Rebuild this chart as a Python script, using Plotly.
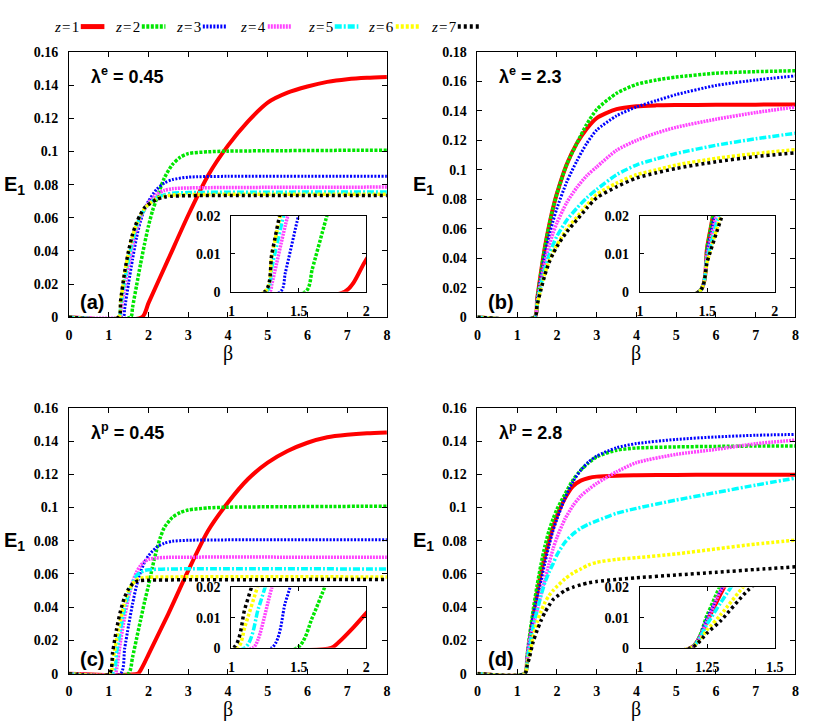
import plotly.graph_objects as go

W, H = 830, 727

# ---------------- data ----------------
Z_LABELS = ["<i>z</i>\u200a=\u200a1", "<i>z</i>\u200a=\u200a2", "<i>z</i>\u200a=\u200a3",
            "<i>z</i>\u200a=\u200a4", "<i>z</i>\u200a=\u200a5", "<i>z</i>\u200a=\u200a6",
            "<i>z</i>\u200a=\u200a7"]

# panel (a)  lambda^e = 0.45
A1_B = [0, 1.84, 2.0, 2.5, 3.0, 3.5, 4.0, 4.5, 5.0, 5.5, 6.0, 6.5, 7.0, 7.5, 8.0]
A1_E = [0, 0, 0.0085, 0.035, 0.0615, 0.0855, 0.1035, 0.118, 0.1295, 0.1355, 0.1392, 0.142, 0.1436, 0.1445, 0.145]
A2_B = [0, 1.55, 1.6, 1.7, 1.8, 1.9, 2.0, 2.1, 2.2, 2.4, 2.6, 2.8, 3.0, 3.5, 4.0, 8.0]
A2_E = [0, 0, 0.006, 0.019, 0.032, 0.044, 0.055, 0.064, 0.071, 0.084, 0.092, 0.0965, 0.0987, 0.0998, 0.1002, 0.1008]
A3_B = [0, 1.364, 1.4, 1.5, 1.6, 1.7, 1.8, 1.9, 2.0, 2.2, 2.4, 2.6, 3.0, 4.0, 8.0]
A3_E = [0, 0, 0.005, 0.0205, 0.035, 0.048, 0.058, 0.065, 0.070, 0.077, 0.081, 0.083, 0.0845, 0.085, 0.085]
A4_B = [0, 1.284, 1.3, 1.4, 1.5, 1.6, 1.7, 1.8, 1.9, 2.0, 2.2, 2.4, 2.6, 3.0, 8.0]
A4_E = [0, 0, 0.002, 0.0175, 0.031, 0.043, 0.053, 0.060, 0.065, 0.069, 0.074, 0.0765, 0.0775, 0.078, 0.0785]
A5_B = [0, 1.26, 1.3, 1.4, 1.5, 1.6, 1.7, 1.8, 1.9, 2.0, 2.2, 2.4, 2.6, 3.0, 8.0]
A5_E = [0, 0, 0.0065, 0.022, 0.035, 0.046, 0.055, 0.061, 0.065, 0.068, 0.072, 0.0738, 0.0748, 0.0752, 0.0755]
A6_B = [0, 1.25, 1.3, 1.4, 1.5, 1.6, 1.7, 1.8, 1.9, 2.0, 2.2, 2.4, 2.6, 3.0, 8.0]
A6_E = [0, 0, 0.0095, 0.026, 0.039, 0.049, 0.056, 0.0615, 0.0655, 0.068, 0.0715, 0.073, 0.0737, 0.074, 0.0742]
A7_B = [0, 1.248, 1.3, 1.4, 1.5, 1.6, 1.7, 1.8, 1.9, 2.0, 2.2, 2.4, 2.6, 3.0, 8.0]
A7_E = [0, 0, 0.010, 0.027, 0.040, 0.050, 0.057, 0.062, 0.066, 0.068, 0.071, 0.0725, 0.073, 0.0733, 0.0735]

# panel (b)  lambda^e = 2.3
B_BETA = [0, 1.44, 1.5, 1.6, 1.7, 1.8, 1.9, 2.0, 2.25, 2.5, 2.75, 3.0, 3.5, 4.0, 4.5, 5.0, 6.0, 7.0, 8.0]
B1_E = [0, 0, 0.012, 0.031, 0.048, 0.062, 0.074, 0.084, 0.104, 0.118, 0.128, 0.1352, 0.1412, 0.1432, 0.1438, 0.144, 0.1442, 0.1443, 0.1444]
B2_E = [0, 0, 0.012, 0.031, 0.048, 0.062, 0.074, 0.084, 0.104, 0.118, 0.131, 0.141, 0.152, 0.158, 0.161, 0.163, 0.1656, 0.1667, 0.1673]
B3_E = [0, 0, 0.011, 0.028, 0.043, 0.055, 0.065, 0.074, 0.092, 0.106, 0.118, 0.127, 0.1367, 0.1427, 0.147, 0.1511, 0.1573, 0.161, 0.1638]
B4_E = [0, 0, 0.010, 0.025, 0.038, 0.048, 0.057, 0.064, 0.078, 0.088, 0.096, 0.102, 0.1133, 0.120, 0.125, 0.1289, 0.1344, 0.1389, 0.1427]
B5_E = [0, 0, 0.009, 0.022, 0.033, 0.042, 0.049, 0.055, 0.066, 0.074, 0.081, 0.0867, 0.0967, 0.1033, 0.1075, 0.1111, 0.1167, 0.1211, 0.1249]
B6_E = [0, 0, 0.008, 0.020, 0.030, 0.038, 0.044, 0.049, 0.060, 0.068, 0.076, 0.0833, 0.091, 0.0967, 0.100, 0.1033, 0.1078, 0.1111, 0.1138]
B7_E = [0, 0, 0.008, 0.019, 0.029, 0.037, 0.043, 0.048, 0.058, 0.066, 0.074, 0.081, 0.0885, 0.0945, 0.098, 0.101, 0.1055, 0.109, 0.1116]

# panel (c)  lambda^p = 0.45
C1_B = [0, 1.74, 1.8, 1.9, 2.0, 2.5, 3.0, 3.5, 4.0, 4.5, 5.0, 5.5, 6.0, 6.5, 7.0, 7.5, 8.0]
C1_E = [0, 0, 0.002, 0.0065, 0.0115, 0.036, 0.062, 0.086, 0.103, 0.117, 0.127, 0.134, 0.139, 0.1423, 0.1438, 0.1447, 0.1452]
C2_B = [0, 1.49, 1.6, 1.7, 1.8, 1.9, 2.0, 2.1, 2.2, 2.3, 2.4, 2.6, 2.8, 3.0, 3.5, 4.0, 8.0]
C2_E = [0, 0, 0.010, 0.021, 0.032, 0.043, 0.053, 0.064, 0.074, 0.082, 0.088, 0.094, 0.097, 0.0985, 0.0998, 0.1002, 0.1008]
C3_B = [0, 1.30, 1.4, 1.5, 1.6, 1.7, 1.8, 1.9, 2.0, 2.2, 2.4, 2.6, 3.0, 8.0]
C3_E = [0, 0, 0.015, 0.029, 0.042, 0.053, 0.061, 0.067, 0.071, 0.076, 0.0785, 0.0797, 0.0803, 0.0806]
C4_B = [0, 1.16, 1.2, 1.3, 1.4, 1.5, 1.6, 1.7, 1.8, 1.9, 2.0, 2.2, 2.5, 8.0]
C4_E = [0, 0, 0.003, 0.020, 0.034, 0.046, 0.055, 0.061, 0.065, 0.0675, 0.0688, 0.0696, 0.070, 0.070]
C5_B = [0, 1.10, 1.2, 1.3, 1.4, 1.5, 1.6, 1.7, 1.8, 1.9, 2.0, 2.5, 8.0]
C5_E = [0, 0, 0.013, 0.027, 0.039, 0.048, 0.055, 0.059, 0.061, 0.062, 0.0625, 0.063, 0.063]
C6_B = [0, 1.045, 1.1, 1.2, 1.3, 1.4, 1.5, 1.6, 1.7, 1.8, 2.0, 8.0]
C6_E = [0, 0, 0.007, 0.021, 0.033, 0.043, 0.050, 0.054, 0.0565, 0.0575, 0.058, 0.0582]
C7_B = [0, 1.015, 1.1, 1.2, 1.3, 1.4, 1.5, 1.6, 1.7, 1.8, 2.0, 8.0]
C7_E = [0, 0, 0.013, 0.027, 0.038, 0.046, 0.051, 0.054, 0.0555, 0.056, 0.0563, 0.0566]

# panel (d)  lambda^p = 2.8
D_BETA = [0, 1.19, 1.25, 1.3, 1.4, 1.5, 1.6, 1.7, 1.8, 1.9, 2.0, 2.2, 2.4, 2.6, 2.8, 3.0, 3.5, 4.0, 5.0, 6.0, 7.0, 8.0]
D1_E = [0, 0, 0.009, 0.018, 0.034, 0.048, 0.061, 0.071, 0.080, 0.088, 0.095, 0.1055, 0.1128, 0.1162, 0.1178, 0.1186, 0.1192, 0.1194, 0.1196, 0.1197, 0.1197, 0.1197]
D2_E = [0, 0, 0.011, 0.021, 0.038, 0.053, 0.066, 0.077, 0.086, 0.093, 0.099, 0.108, 0.1165, 0.1225, 0.127, 0.1305, 0.1345, 0.1358, 0.1365, 0.1368, 0.137, 0.137]
D3_E = [0, 0, 0.010, 0.019, 0.034, 0.046, 0.056, 0.067, 0.077, 0.086, 0.093, 0.1055, 0.1155, 0.1225, 0.1275, 0.131, 0.136, 0.1385, 0.141, 0.1425, 0.1435, 0.144]
D4_E = [0, 0, 0.009, 0.019, 0.029, 0.038, 0.048, 0.057, 0.066, 0.075, 0.082, 0.093, 0.101, 0.107, 0.111, 0.1145, 0.1215, 0.127, 0.132, 0.135, 0.1384, 0.1406]
D5_E = [0, 0, 0.008, 0.015, 0.028, 0.038, 0.047, 0.055, 0.061, 0.066, 0.0715, 0.079, 0.084, 0.0875, 0.090, 0.092, 0.0965, 0.0995, 0.1045, 0.109, 0.1135, 0.1177]
D6_E = [0, 0, 0.006, 0.011, 0.022, 0.031, 0.0375, 0.043, 0.047, 0.050, 0.0525, 0.057, 0.0605, 0.063, 0.0655, 0.067, 0.0688, 0.0698, 0.0721, 0.0751, 0.078, 0.0804]
D7_E = [0, 0, 0.005, 0.009, 0.019, 0.026, 0.032, 0.037, 0.041, 0.0445, 0.0465, 0.050, 0.052, 0.0535, 0.0547, 0.0555, 0.0567, 0.0577, 0.0594, 0.061, 0.0627, 0.0643]

MAIN_XTICKS = [0, 1, 2, 3, 4, 5, 6, 7, 8]
Y16_TICKS = [0, 0.02, 0.04, 0.06, 0.08, 0.1, 0.12, 0.14, 0.16]
Y16_TEXT = ["0", "0.02", "0.04", "0.06", "0.08", "0.1", "0.12", "0.14", "0.16"]
Y18_TICKS = [0, 0.02, 0.04, 0.06, 0.08, 0.1, 0.12, 0.14, 0.16, 0.18]
Y18_TEXT = ["0", "0.02", "0.04", "0.06", "0.08", "0.1", "0.12", "0.14", "0.16", "0.18"]
INSET_YTICKS = [0, 0.01, 0.02]
INSET_YTEXT = ["0", "0.01", "0.02"]
INSET_XTICKS_ABC = [1, 1.5, 2]
INSET_XTICKS_D = [1, 1.25, 1.5]

PANEL_TEXT = ["λ<sup>e</sup> = 0.45", "λ<sup>e</sup> = 2.3", "λ<sup>p</sup> = 0.45", "λ<sup>p</sup> = 2.8"]
PANEL_TAGS = ["(a)", "(b)", "(c)", "(d)"]

# ---------------- styles ----------------
COLORS = ["#ff0000", "#00e600", "#0000ff", "#ff44ff", "#00ffff", "#ffff00", "#000000"]
WIDTHS = [4, 3.5, 3, 3.5, 3.5, 3.5, 3.5]
DASHES = ["solid", "3px,1.5px", "2px,1.5px", "2px,1px", "7px,2px,2px,2px", "3px,2px", "3px,3px"]
SERIF = "Liberation Serif, Times New Roman, serif"
SANS = "Liberation Sans, Arial, sans-serif"


def px_x(x):
    return x / W


def px_y(y):
    return 1 - y / H


fig = go.Figure()

panels = [
    ([A1_B, A2_B, A3_B, A4_B, A5_B, A6_B, A7_B], [A1_E, A2_E, A3_E, A4_E, A5_E, A6_E, A7_E]),
    ([B_BETA] * 7, [B1_E, B2_E, B3_E, B4_E, B5_E, B6_E, B7_E]),
    ([C1_B, C2_B, C3_B, C4_B, C5_B, C6_B, C7_B], [C1_E, C2_E, C3_E, C4_E, C5_E, C6_E, C7_E]),
    ([D_BETA] * 7, [D1_E, D2_E, D3_E, D4_E, D5_E, D6_E, D7_E]),
]

for p, (bs, es) in enumerate(panels):
    main_ax = p + 1
    ins_ax = p + 5
    for k in range(7):
        for ax in (main_ax, ins_ax):
            fig.add_trace(go.Scatter(
                x=bs[k], y=es[k], mode="lines", name=Z_LABELS[k],
                line=dict(color=COLORS[k], width=WIDTHS[k], dash=DASHES[k],
                          shape="spline", smoothing=0.7),
                showlegend=False,
                xaxis="x" if ax == 1 else f"x{ax}",
                yaxis="y" if ax == 1 else f"y{ax}",
                hoverinfo="skip",
            ))

TICKFONT = dict(family=SERIF, size=14, color="black", weight="bold")


def axis_style(**kw):
    d = dict(showline=True, linecolor="black", linewidth=1, mirror="ticks",
             ticks="inside", ticklen=5, tickcolor="black", tickwidth=1,
             showgrid=False, zeroline=False, tickfont=TICKFONT,
             fixedrange=True)
    d.update(kw)
    return d


# panel geometry in page pixels: (left, right, top, bottom)
main_geo = [(66, 389, 46, 316.7), (481, 804, 46, 316.7),
            (66, 389, 409.3, 680.7), (481, 804, 409.3, 680.7)]
inset_geo = [(231, 368, 213.3, 290.7), (646, 783, 213.3, 290.7),
             (231, 368, 592.7, 654.3), (646, 783, 592.7, 654.3)]

layout = dict(
    width=W, height=H, margin=dict(l=0, r=0, t=0, b=0),
    paper_bgcolor="white", plot_bgcolor="white",
    showlegend=False,
)

for p in range(4):
    l, r, t, b = main_geo[p]
    ax = p + 1
    xk = "xaxis" if ax == 1 else f"xaxis{ax}"
    yk = "yaxis" if ax == 1 else f"yaxis{ax}"
    ya = "y" if ax == 1 else f"y{ax}"
    xa = "x" if ax == 1 else f"x{ax}"
    ymax = 0.18 if p == 1 else 0.16
    layout[xk] = axis_style(domain=[px_x(l), px_x(r)], range=[0, 8], anchor=ya,
                            tickvals=MAIN_XTICKS, ticktext=[str(v) for v in MAIN_XTICKS],
                            ticklabelstandoff=5)
    layout[yk] = axis_style(domain=[px_y(b), px_y(t)], range=[0, ymax], anchor=xa,
                            tickvals=Y18_TICKS if p == 1 else Y16_TICKS,
                            ticktext=Y18_TEXT if p == 1 else Y16_TEXT,
                            ticklabelstandoff=7)
    # inset
    l2, r2, t2, b2 = inset_geo[p]
    ax2 = p + 5
    xs = INSET_XTICKS_D if p == 3 else INSET_XTICKS_ABC
    layout[f"xaxis{ax2}"] = axis_style(domain=[px_x(l2), px_x(r2)], range=[xs[0], xs[-1]],
                                       anchor=f"y{ax2}", tickvals=xs,
                                       ticktext=[("%g" % v) for v in xs], ticklen=4,
                                       ticklabelstandoff=6)
    layout[f"yaxis{ax2}"] = axis_style(domain=[px_y(b2), px_y(t2)], range=[0, 0.02],
                                       anchor=f"x{ax2}", tickvals=INSET_YTICKS,
                                       ticktext=INSET_YTEXT, ticklen=4,
                                       ticklabelstandoff=7)

fig.update_layout(**layout)

# white background behind insets
for (l2, r2, t2, b2) in inset_geo:
    fig.add_shape(type="rect", xref="paper", yref="paper",
                  x0=px_x(l2), x1=px_x(r2), y0=px_y(b2), y1=px_y(t2),
                  fillcolor="white", line=dict(width=0), layer="below")

ann = []
# legend key: label text followed by a short line sample
LEG_TEXT_CX = [63, 125.5, 187.5, 253, 321.5, 383.5, 446.5]
LEG_LINE_X = [78, 140, 202, 268, 336, 398, 461]
LEG_LEN = 24
LEG_Y = 20
for k in range(7):
    x0 = LEG_LINE_X[k]
    fig.add_shape(type="line", xref="paper", yref="paper",
                  x0=px_x(x0), x1=px_x(x0 + LEG_LEN), y0=px_y(LEG_Y), y1=px_y(LEG_Y),
                  line=dict(color=COLORS[k], width=WIDTHS[k] + 1, dash=DASHES[k]))
    ann.append(dict(text=Z_LABELS[k], x=px_x(LEG_TEXT_CX[k]), y=px_y(LEG_Y),
                    xref="paper", yref="paper", showarrow=False, xanchor="center", yanchor="middle",
                    font=dict(family=SERIF, size=15, color="black")))

for p in range(4):
    l, r, t, b = main_geo[p]
    ann.append(dict(text="<b>E<sub>1</sub></b>", x=px_x(l - 55), y=px_y((t + b) / 2 + 1),
                    xref="paper", yref="paper", showarrow=False, xanchor="center", yanchor="middle",
                    font=dict(family=SANS, size=20, color="black")))
    ann.append(dict(text="β", x=px_x((l + r) / 2), y=px_y(b + 37),
                    xref="paper", yref="paper", showarrow=False, xanchor="center", yanchor="middle",
                    font=dict(family=SERIF, size=20, color="black")))
    ann.append(dict(text="<b>" + PANEL_TEXT[p] + "</b>", x=px_x(l + 20), y=px_y(t + 24),
                    xref="paper", yref="paper", showarrow=False, xanchor="left", yanchor="middle",
                    font=dict(family=SANS, size=18, color="black")))
    ann.append(dict(text="<b>" + PANEL_TAGS[p] + "</b>", x=px_x(l + 9), y=px_y(b - 15),
                    xref="paper", yref="paper", showarrow=False, xanchor="left", yanchor="middle",
                    font=dict(family=SANS, size=20, color="black")))
fig.update_layout(annotations=ann)

fig.write_html("out.html",
               config={"displayModeBar": False, "staticPlot": True},
               post_script="document.body.style.margin='0';"
                           "document.documentElement.style.overflow='hidden';")
